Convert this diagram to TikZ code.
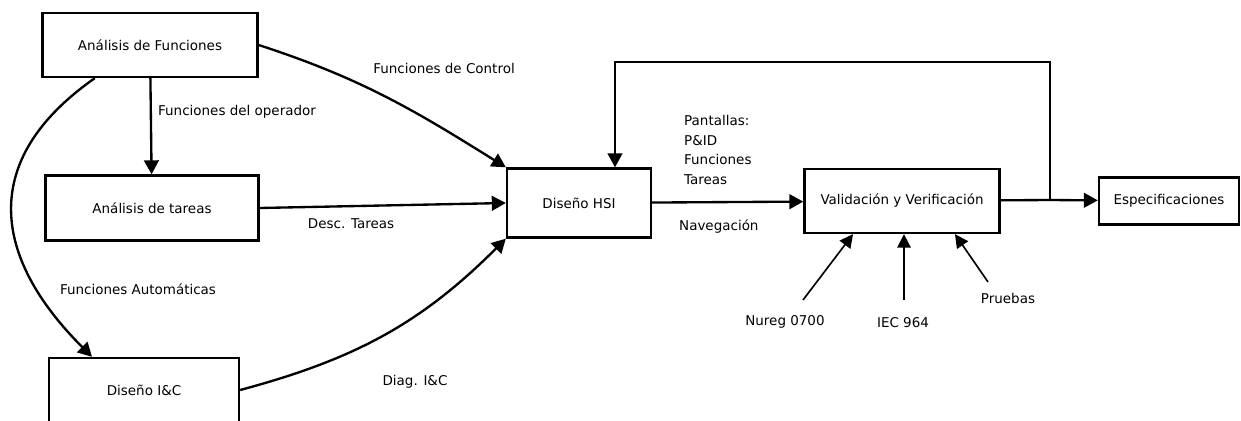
\documentclass[tikz,border=0pt]{standalone}
\usepackage{fontspec}
\setmainfont{DejaVu Sans}
\usetikzlibrary{arrows.meta,calc}

\begin{document}
\begin{tikzpicture}[x=0.03cm,y=0.03cm,
    font=\fontsize{11.5}{17}\selectfont,
    line width=2pt,
    box/.style={draw, rectangle, inner sep=0pt},
    arr/.style={-{Triangle[length=0.42cm,width=0.44cm]}},
    thinarr/.style={line width=1.4pt, -{Triangle[length=0.4cm,width=0.4cm]}},
    lbl/.style={inner sep=0pt}]

        \useasboundingbox (0,0) rectangle (1241,420);

        \begin{scope}[every node/.style={box}]
          \node[minimum width=6.45cm, minimum height=1.92cm] (af)  at (150,375) {Análisis de Funciones};
          \node[minimum width=6.39cm, minimum height=1.95cm] (at)  at (152,212) {Análisis de tareas};
          \node[minimum width=5.7cm,  minimum height=1.92cm] (ic)  at (144,30)  {Diseño I\&C};
          \node[minimum width=4.32cm, minimum height=2.07cm] (hsi) at (579,217) {Diseño HSI};
          \node[minimum width=5.85cm, minimum height=1.92cm] (vv)  at (902,219) {Validación y Verificación};
          \node[minimum width=4.2cm,  minimum height=1.41cm] (esp) at (1169,219) {Especificaciones};
        \end{scope}

        \begin{scope}[every node/.style={lbl}]
          \node (lctl) at (444,352) {Funciones de Control};
          \node[anchor=west] (lop) at (157,308) {Funciones del operador};
          \node (ldesc) at (351,196) {Desc. Tareas};
          \node (lauto) at (138,131) {Funciones Automáticas};
          \node (ldiag) at (415,38) {Diag. I\&C};
          \node[anchor=west, align=left] (lpant) at (683,270) {Pantallas:\\P\&ID\\Funciones\\Tareas};
          \node[anchor=west] (lnav) at (678,193) {Navegación};
          \node (lnureg) at (785,98) {Nureg 0700};
          \node (liec) at (903,97) {IEC 964};
          \node (lpru) at (1008,122) {Pruebas};
        \end{scope}

        \coordinate (fb)  at (1050,220);
        \coordinate (ret) at (615,358);
        \coordinate (n0)  at (803,120);
        \coordinate (n1)  at (904,120);
        \coordinate (n2)  at (988,138);

        \begin{scope}[every edge/.style={draw, arr}]
          \path (af)  edge (at);
          \path (af.east) edge[out=-18, in=148] (hsi.north west);
          \path (at.east) edge (hsi.west);
          \path (ic.east) edge[out=15, in=-135] (hsi.south west);
          \path (af.211) edge[out=215, in=135, looseness=1.3] ($(ic.north)+(-52,0)$);
          \path (hsi) edge (vv);
          \path (fb)  edge (esp);
        \end{scope}

        \draw (vv) -- (fb);
        \draw[arr] (fb) |- (ret) -- (ret |- hsi.north);

        \begin{scope}[every edge/.style={draw, thinarr}]
          \path (n0) edge ($(vv.south)+(-49,0)$);
          \path (n1) edge (n1 |- vv.south);
          \path (n2) edge ($(vv.south)+(53,0)$);
        \end{scope}

      \end{tikzpicture}
\end{document}
